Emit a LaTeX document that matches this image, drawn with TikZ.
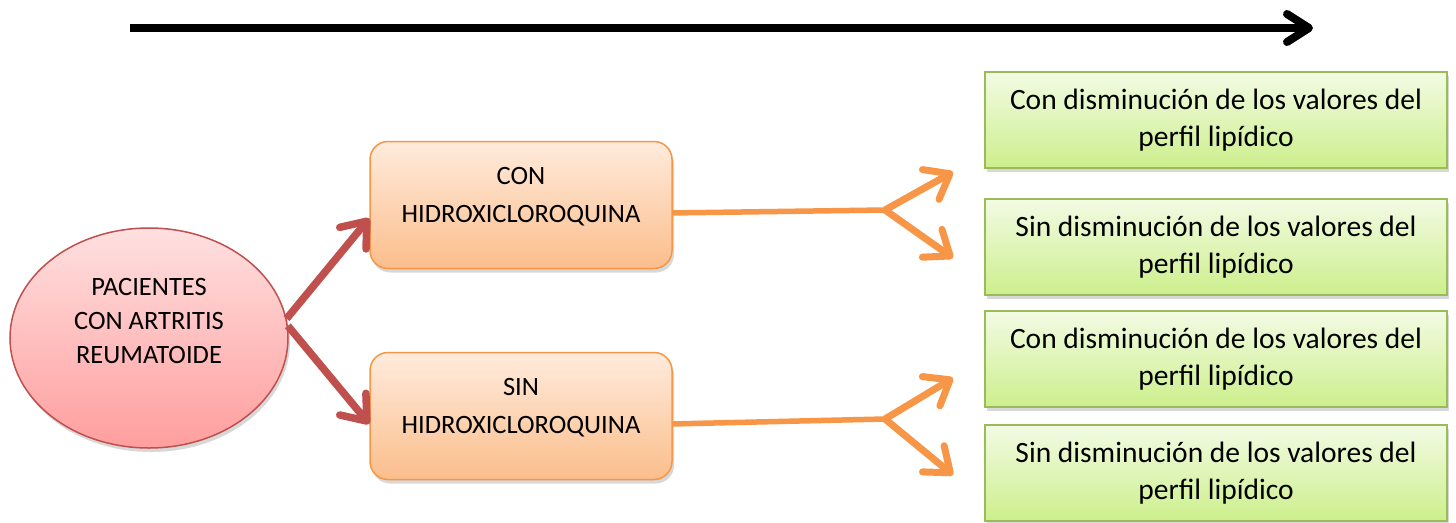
\documentclass[tikz,border=0pt]{standalone}
\usepackage{fontspec}
\setmainfont{Carlito}
\usetikzlibrary{arrows.meta,shapes.geometric,shadows}
\definecolor{rojo}{RGB}{192,80,77}
\definecolor{naranja}{RGB}{247,150,70}
\definecolor{verde}{RGB}{155,187,89}
\begin{document}
\begin{tikzpicture}[x=1pt,y=-1pt,
    sombra/.style={drop shadow={opacity=0.3,shadow xshift=2pt,shadow yshift=-4pt}},
    caja/.style={draw=naranja,line width=1.5pt,rounded corners=18pt,minimum width=302pt,minimum height=127pt,
        top color={rgb,255:red,255;green,235;blue,220},bottom color={rgb,255:red,251;green,190;blue,140},
        sombra,align=center,text depth=20pt,font=\fontsize{26.5}{38}\selectfont},
    resultado/.style={draw=verde,line width=1.5pt,minimum width=462pt,minimum height=96pt,
        top color={rgb,255:red,242;green,251;blue,228},bottom color={rgb,255:red,205;green,239;blue,140},
        sombra,align=center,font=\fontsize{29.5}{37}\selectfont},
    flecharoja/.style={draw=rojo,line width=7.5pt,-{Straight Barb[length=22pt,width=34pt,round]}},
    flechanaranja/.style={draw=naranja,line width=7pt,-{Straight Barb[length=22pt,width=34pt,round]}}]
\fill[white] (0,0) rectangle (1456,522);
\useasboundingbox (0,0) rectangle (1456,522);
% flecha del tiempo
\coordinate (ini) at (130,28);
\coordinate (fin) at (1313,28);
\draw[line width=8pt,-{Straight Barb[length=22pt,width=28pt,round]}] (ini) -- (fin);
% pacientes
\node[ellipse,draw=rojo,line width=1.5pt,minimum width=278pt,minimum height=220pt,
    top color={rgb,255:red,255;green,224;blue,224},bottom color={rgb,255:red,255;green,158;blue,158},sombra] (pac) at (149,338) {};
\node[align=center,font=\fontsize{26.5}{34}\selectfont] (pactexto) at (149,321) {PACIENTES\\CON ARTRITIS\\REUMATOIDE};
% grupos
\node[caja] (con) at (521,205) {CON\\HIDROXICLOROQUINA};
\node[caja] (sin) at (521,416) {SIN\\HIDROXICLOROQUINA};
% resultados
\node[resultado] (r1) at (1216,120) {Con disminución de los valores del\\perfil lipídico};
\node[resultado] (r2) at (1216,247) {Sin disminución de los valores del\\perfil lipídico};
\node[resultado] (r3) at (1216,359) {Con disminución de los valores del\\perfil lipídico};
\node[resultado] (r4) at (1216,473) {Sin disminución de los valores del\\perfil lipídico};
% flechas
\draw[flecharoja] (pac.8) -- (con.185);
\draw[flecharoja] (pac.5) -- (sin.183);
\coordinate (bif1) at (885,210);
\coordinate (bif2) at (885,419);
\coordinate (p1) at (953,172);
\coordinate (p2) at (953,258);
\coordinate (p3) at (953,378);
\coordinate (p4) at (953,475);
\draw[naranja,line width=5.5pt] (con.-3) -- (bif1);
\draw[naranja,line width=5.5pt] (sin.-3) -- (bif2);
\draw[flechanaranja] (bif1) -- (p1);
\draw[flechanaranja] (bif1) -- (p2);
\draw[flechanaranja] (bif2) -- (p3);
\draw[flechanaranja] (bif2) -- (p4);
\end{tikzpicture}
\end{document}
